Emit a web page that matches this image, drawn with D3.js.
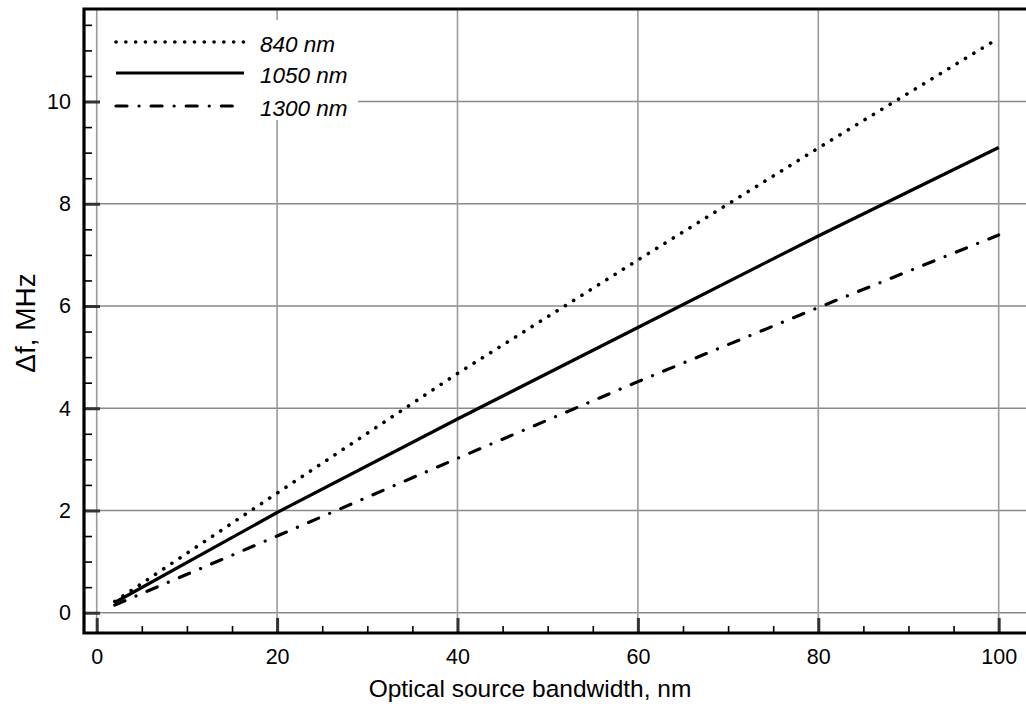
<!DOCTYPE html>
<html>
<head>
<meta charset="utf-8">
<script src="https://cdn.jsdelivr.net/npm/d3@7"></script>
<style>
  html, body { margin: 0; padding: 0; background: #fff; }
  svg { display: block; }
  text { font-family: "Liberation Sans", Arial, Helvetica, sans-serif; fill: #000; }
</style>
</head>
<body>
<svg id="chart" width="1026" height="706"></svg>
<script>
// ---- data ----
const bandwidth = [2, 20, 40, 60, 80, 100];
const df840  = [0.22, 2.34, 4.68, 6.90, 9.09, 11.24];
const df1050 = [0.20, 1.96, 3.79, 5.58, 7.37, 9.10];
const df1300 = [0.15, 1.50, 3.02, 4.52, 5.97, 7.39];
const seriesNames = ["840 nm", "1050 nm", "1300 nm"];
const xMajorTicks = [0, 20, 40, 60, 80, 100];
const yMajorTicks = [0, 2, 4, 6, 8, 10];
const xLabel = "Optical source bandwidth, nm";
const yLabel = "\u0394f, MHz";

// ---- layout ----
const svg = d3.select("#chart");
const pLeft = 84, pRight = 1026, pTop = 9, pBottom = 633;
const x = d3.scaleLinear().domain([-1.41, 103.03]).range([pLeft, pRight]);
const y = d3.scaleLinear().domain([-0.397, 11.81]).range([pBottom, pTop]);

const xMinor = d3.range(5, 101, 5).filter(v => v % 20 !== 0);
const yMinor = d3.range(0.5, 11.9, 0.5).filter(v => v % 2 !== 0);

// gridlines
const grid = svg.append("g");
grid.selectAll("line.h").data(yMajorTicks).join("line").attr("class", "h")
  .attr("x1", pLeft).attr("x2", pRight)
  .attr("y1", d => y(d)).attr("y2", d => y(d))
  .attr("stroke", "#8a8a8a").attr("stroke-width", 1.4);
grid.selectAll("line.v").data(xMajorTicks).join("line").attr("class", "v")
  .attr("x1", d => x(d)).attr("x2", d => x(d))
  .attr("y1", pTop).attr("y2", pBottom)
  .attr("stroke", "#9a9a9a").attr("stroke-width", 1.6);

// legend background (covers gridlines)
svg.append("rect").attr("x", 100).attr("y", 20).attr("width", 258).attr("height", 100).attr("fill", "#fff");

// series
const styles = [
  { data: df840,  dash: "0.1 9.7", cap: "round", w: 3.6 },
  { data: df1050, dash: null, cap: "butt", w: 3.2 },
  { data: df1300, dash: "11 12 0.1 12", cap: "round", w: 3.2 }
];
const line = d3.line().x(d => x(d[0])).y(d => y(d[1]));
styles.forEach(s => {
  svg.append("path")
    .datum(bandwidth.map((b, i) => [b, s.data[i]]))
    .attr("d", line)
    .attr("fill", "none").attr("stroke", "#000")
    .attr("stroke-width", s.w)
    .attr("stroke-linecap", s.cap)
    .attr("stroke-dasharray", s.dash);
});

// axes: y major
const yAxis = svg.append("g").attr("transform", `translate(${pLeft},0)`)
  .call(d3.axisLeft(y).tickValues(yMajorTicks).tickSizeInner(-16).tickSizeOuter(0).tickPadding(13).tickFormat(d3.format("d")));
yAxis.select(".domain").remove();
yAxis.selectAll(".tick line").attr("stroke", "#333").attr("stroke-width", 3);
yAxis.selectAll(".tick text").style("font-size", "21.5px").attr("fill", "#000");

const yAxisMinor = svg.append("g").attr("transform", `translate(${pLeft},0)`)
  .call(d3.axisLeft(y).tickValues(yMinor).tickSizeInner(-8).tickSizeOuter(0).tickFormat(""));
yAxisMinor.select(".domain").remove();
yAxisMinor.selectAll(".tick line").attr("stroke", "#000").attr("stroke-width", 1.6);

// x axis
const xAxis = svg.append("g").attr("transform", `translate(0,${pBottom})`)
  .call(d3.axisBottom(x).tickValues(xMajorTicks).tickSizeInner(-15).tickSizeOuter(0).tickPadding(15.5).tickFormat(d3.format("d")));
xAxis.select(".domain").remove();
xAxis.selectAll(".tick line").attr("stroke", "#333").attr("stroke-width", 3);
xAxis.selectAll(".tick text").style("font-size", "21.5px").attr("fill", "#000");

const xAxisMinor = svg.append("g").attr("transform", `translate(0,${pBottom})`)
  .call(d3.axisBottom(x).tickValues(xMinor).tickSizeInner(-7).tickSizeOuter(0).tickFormat(""));
xAxisMinor.select(".domain").remove();
xAxisMinor.selectAll(".tick line").attr("stroke", "#000").attr("stroke-width", 1.6);

// frame
svg.append("path")
  .attr("d", `M${pRight + 5},${pTop} H${pLeft} V${pBottom} H${pRight + 5}`)
  .attr("fill", "none").attr("stroke", "#000").attr("stroke-width", 3.2);

// legend
const legendRows = [42, 73, 106];
styles.forEach((s, i) => {
  svg.append("line")
    .attr("x1", 116).attr("x2", 244)
    .attr("y1", legendRows[i]).attr("y2", legendRows[i])
    .attr("stroke", "#000").attr("stroke-width", s.w)
    .attr("stroke-linecap", s.cap)
    .attr("stroke-dasharray", s.dash);
  svg.append("text")
    .attr("x", 260).attr("y", legendRows[i] + 9.5)
    .style("font-size", "22.5px").style("font-style", "italic")
    .text(seriesNames[i]);
});

// axis labels
svg.append("text")
  .attr("x", 530).attr("y", 697)
  .attr("text-anchor", "middle").style("font-size", "24.5px")
  .text(xLabel);
svg.append("text")
  .attr("transform", `translate(35,${323}) rotate(-90)`)
  .attr("text-anchor", "middle").style("font-size", "28px")
  .text(yLabel);
</script>
</body>
</html>
